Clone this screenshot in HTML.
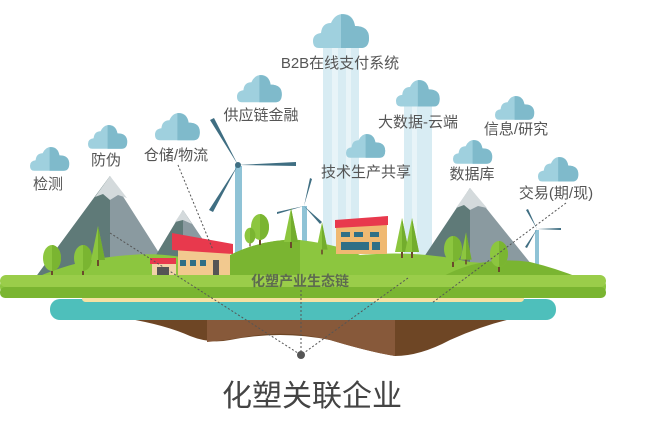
<!DOCTYPE html>
<html><head><meta charset="utf-8"><style>
html,body{margin:0;padding:0;background:#fff;}
svg{display:block}
text{font-family:"Liberation Sans","Noto Sans CJK SC",sans-serif;}
</style></head><body>
<svg width="657" height="436" viewBox="0 0 657 436" xmlns="http://www.w3.org/2000/svg">
<defs>
<g id="cl">
 <path d="M6 34 Q0 34 0 27 Q0 20 8 19 Q9 9 18 9 Q22 0 30 0 Q40 0 42 12 Q56 12 56 24 Q56 34 48 34 Z" fill="#9fd0de"/>
 <path d="M28 0.2 Q40 0 42 12 Q56 12 56 24 Q56 34 48 34 L28 34 Z" fill="#7fbacb"/>
</g>
<g id="tr"><rect x="-1" y="0" width="2" height="14" fill="#6b4a2b"/><ellipse cx="0" cy="-4" rx="9" ry="13" fill="#8cc63f"/><path d="M0 -17 A9 13 0 0 1 0 9 Z" fill="#7ab531"/></g>
<g id="pt"><rect x="-1" y="0" width="2" height="8" fill="#6b4a2b"/><polygon points="0,-32 -7,2 7,2" fill="#8cc63f"/><polygon points="0,-32 0,2 7,2" fill="#73ad2d"/></g>
</defs>
<rect x="323" y="46" width="36" height="210" fill="#d8ecf3"/>
<rect x="332" y="46" width="6" height="210" fill="#e8f4f8"/>
<rect x="346" y="46" width="5" height="210" fill="#e8f4f8"/>
<rect x="404" y="106" width="28" height="150" fill="#d8ecf3"/>
<rect x="412" y="106" width="5" height="150" fill="#e8f4f8"/>
<use href="#cl" transform="translate(313,14)"/>
<use href="#cl" transform="translate(237,75) scale(0.8)"/>
<use href="#cl" transform="translate(396,80) scale(0.78)"/>
<use href="#cl" transform="translate(495,96) scale(0.7)"/>
<use href="#cl" transform="translate(346,134) scale(0.7)"/>
<use href="#cl" transform="translate(453,140) scale(0.7)"/>
<use href="#cl" transform="translate(538,157) scale(0.72)"/>
<use href="#cl" transform="translate(30,147) scale(0.7)"/>
<use href="#cl" transform="translate(88,125) scale(0.7)"/>
<use href="#cl" transform="translate(155,113) scale(0.8)"/>
<g font-size="15" fill="#555" text-anchor="middle">
<text x="340" y="68">B2B在线支付系统</text>
<text x="261" y="120">供应链金融</text>
<text x="418" y="127">大数据-云端</text>
<text x="516" y="134">信息/研究</text>
<text x="366" y="177">技术生产共享</text>
<text x="472" y="179">数据库</text>
<text x="556" y="198">交易(期/现)</text>
<text x="48" y="189">检测</text>
<text x="106" y="165">防伪</text>
<text x="176" y="160">仓储/物流</text>
</g>
<polygon points="110,176 35,278 175,278" fill="#8a9aa0"/>
<polygon points="110,176 35,278 110,278" fill="#5f7a78"/>
<polygon points="110,176 95,197 103,194 110,200 118,195 127,198" fill="#d4dadc"/>
<polygon points="183,210 150,265 220,265" fill="#8a9aa0"/>
<polygon points="183,210 150,265 183,265" fill="#5f7a78"/>
<polygon points="183,210 175,222 183,220 192,224" fill="#d4dadc"/>
<polygon points="470,188 412,275 540,275" fill="#8a9aa0"/>
<polygon points="470,188 412,275 470,275" fill="#5f7a78"/>
<polygon points="470,188 456,208 464,205 470,210 478,206 487,208" fill="#d4dadc"/>
<rect x="235" y="166" width="7" height="90" fill="#8fc3d6"/>
<g fill="#3f6e82"><path d="M238 165 L296 162 L296 166 Z"/><path d="M238 165 L210 120 L214 118 Z"/><path d="M238 165 L213 212 L209 210 Z"/></g>
<circle cx="238" cy="165" r="3" fill="#3f6e82"/>
<rect x="302" y="206" width="5" height="50" fill="#8fc3d6"/>
<g fill="#3f6e82"><path d="M304 206 L310 178 L312 179 Z"/><path d="M304 206 L277 214 L277 212 Z"/><path d="M304 206 L322 222 L320 224 Z"/></g>
<rect x="535" y="230" width="4" height="42" fill="#8fc3d6"/>
<g fill="#3f6e82"><path d="M537 229 L561 228 L561 230 Z"/><path d="M537 229 L526 210 L528 209 Z"/><path d="M537 229 L527 248 L525 247 Z"/></g>
<path d="M35 278 Q80 258 130 255 Q170 252 200 262 L230 255 Q265 238 300 240 Q340 245 360 255 Q420 250 470 262 Q520 265 560 278 Z" fill="#8cc63f"/>
<path d="M230 255 Q265 238 300 240 L300 278 L230 278 Z" fill="#7ab531"/>
<path d="M440 278 Q480 255 530 262 Q555 268 580 278 Z" fill="#7ab531"/>
<use href="#tr" transform="translate(52,262)"/>
<use href="#tr" transform="translate(83,262)"/>
<use href="#pt" transform="translate(98,258)"/>
<use href="#tr" transform="translate(260,231)"/>
<use href="#tr" transform="translate(250,238) scale(0.6)"/>
<use href="#pt" transform="translate(291,240)"/>
<use href="#pt" transform="translate(322,248) scale(0.8)"/>
<use href="#pt" transform="translate(402,250)"/>
<use href="#pt" transform="translate(412,250)"/>
<use href="#tr" transform="translate(453,253)"/>
<use href="#pt" transform="translate(466,258) scale(0.8)"/>
<use href="#tr" transform="translate(499,258)"/>
<rect x="178" y="250" width="52" height="26" fill="#f2c98f"/>
<polygon points="172,233 233,244 233,254 172,250" fill="#e8394d"/>
<rect x="180" y="260" width="6" height="6" fill="#2f6f86"/><rect x="190" y="260" width="6" height="6" fill="#2f6f86"/><rect x="200" y="260" width="6" height="6" fill="#2f6f86"/><rect x="213" y="260" width="6" height="16" fill="#555"/>
<rect x="152" y="262" width="24" height="14" fill="#f2d3a8"/>
<polygon points="150,258 176,258 176,264 150,264" fill="#e8394d"/>
<rect x="157" y="267" width="12" height="9" fill="#555"/>
<rect x="336" y="224" width="51" height="30" fill="#f0b972"/>
<polygon points="335,220 388,216 388,225 335,228" fill="#e8394d"/>
<rect x="341" y="232" width="9" height="5" fill="#2f6f86"/><rect x="354" y="232" width="9" height="5" fill="#2f6f86"/><rect x="370" y="232" width="9" height="5" fill="#2f6f86"/>
<rect x="341" y="242" width="28" height="8" fill="#2f6f86"/><rect x="372" y="242" width="8" height="8" fill="#2f6f86"/>
<path d="M72 312 Q150 318 190 336 Q210 344 230 340 Q280 330 330 340 Q370 352 395 356 Q420 356 450 340 Q490 322 530 315 Z" fill="#6e4625"/>
<path d="M207 342 Q230 340 250 336 Q290 330 330 340 Q370 352 395 356 L395 315 L207 315 Z" fill="#87593a"/>
<rect x="50" y="299" width="506" height="21" rx="10" fill="#4ebfbb"/>
<rect x="82" y="295" width="442" height="7" rx="3.5" fill="#f5e1a2"/>
<rect x="0" y="275" width="606" height="23" rx="11" fill="#8cc63f"/>
<rect x="0" y="287" width="606" height="11" rx="5" fill="#7ab531"/>
<rect x="0" y="275" width="606" height="12" rx="6" fill="#9acd4a"/>
<text x="300" y="286" font-size="14" font-weight="bold" fill="#5d6b4f" text-anchor="middle">化塑产业生态链</text>
<g stroke="#555" stroke-width="1" stroke-dasharray="2,2" fill="none">
<path d="M110 233 L301 355"/>
<path d="M178 165 L213 250"/>
<path d="M301 290 L301 355"/>
<path d="M408 278 L301 355"/>
<path d="M566 203 L432 303"/>
</g>
<circle cx="301" cy="355" r="4" fill="#555"/>
<text x="312" y="406" font-size="30" fill="#444" text-anchor="middle">化塑关联企业</text>
</svg>
</body></html>
